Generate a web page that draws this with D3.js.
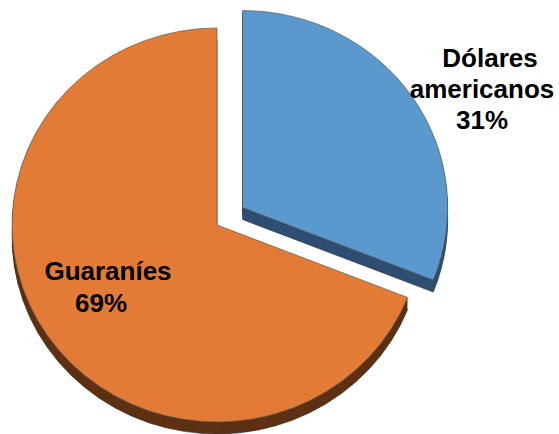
<!DOCTYPE html>
<html>
<head>
<meta charset="utf-8">
<script src="https://cdn.jsdelivr.net/npm/d3@7"></script>
<style>
  html, body { margin: 0; padding: 0; background: #fff; }
  svg { display: block; }
</style>
</head>
<body>
<svg id="chart" width="559" height="434"></svg>
<script>
// ---- data ----
const categories = ["Dólares americanos", "Guaraníes"];
const values = [31, 69];
const labelLines = [["Dólares", "americanos"], ["Guaraníes"]];

// ---- style / layout ----
const topColors  = ["#5B98CD", "#E17B35"];
const wallColors = ["#2E4F72", "#5E3113"];
const W = 559, H = 434;
const cx = 217, cy = 225;
const rx = 205, ry = 197;
const depth = 12;
const explode = [31, 0];
// label line positions: [x, baseline] for each line, last = percentage
const labelPos = [
  [[490, 67], [482, 98], [482, 129]],
  [[108, 280], [101, 312]]
];

const svg = d3.select("#chart");
const total = d3.sum(values);
const pie = d3.pie().sort(null).value(d => d)(values);
const arc = d3.arc().innerRadius(0).outerRadius(1);

function offset(d, i) {
  const mid = (d.startAngle + d.endAngle) / 2;
  return [explode[i] * Math.sin(mid), -explode[i] * Math.cos(mid)];
}

const g = svg.append("g");

// draw blue (exploded, behind) first, then orange
const order = [0, 1];
order.forEach(i => {
  const d = pie[i];
  const [ox, oy] = offset(d, i);
  const sg = g.append("g");
  // extruded walls by stacking copies
  for (let k = depth; k >= 1; k--) {
    sg.append("path")
      .attr("d", arc(d))
      .attr("transform", `translate(${cx + ox},${cy + oy + k}) scale(${rx},${ry})`)
      .attr("fill", wallColors[i])
      .attr("stroke", k === depth ? "#2a2a2a" : "none")
      .attr("stroke-width", 0.6)
      .attr("vector-effect", "non-scaling-stroke");
  }
  // top face
  sg.append("path")
    .attr("d", arc(d))
    .attr("transform", `translate(${cx + ox},${cy + oy}) scale(${rx},${ry})`)
    .attr("fill", topColors[i])
    .attr("stroke", "#5a5a5a")
    .attr("stroke-width", 0.7)
    .attr("vector-effect", "non-scaling-stroke");
});

// labels
categories.forEach((c, i) => {
  const lines = labelLines[i].concat([Math.round(values[i] / total * 100) + "%"]);
  const t = svg.append("g")
    .attr("font-family", "'Liberation Sans', Arial, sans-serif")
    .attr("font-weight", "bold")
    .attr("font-size", 26)
    .attr("fill", "#000")
    .attr("text-anchor", "middle");
  lines.forEach((ln, j) => {
    t.append("text")
      .attr("x", labelPos[i][j][0])
      .attr("y", labelPos[i][j][1])
      .text(ln);
  });
});
</script>
</body>
</html>
